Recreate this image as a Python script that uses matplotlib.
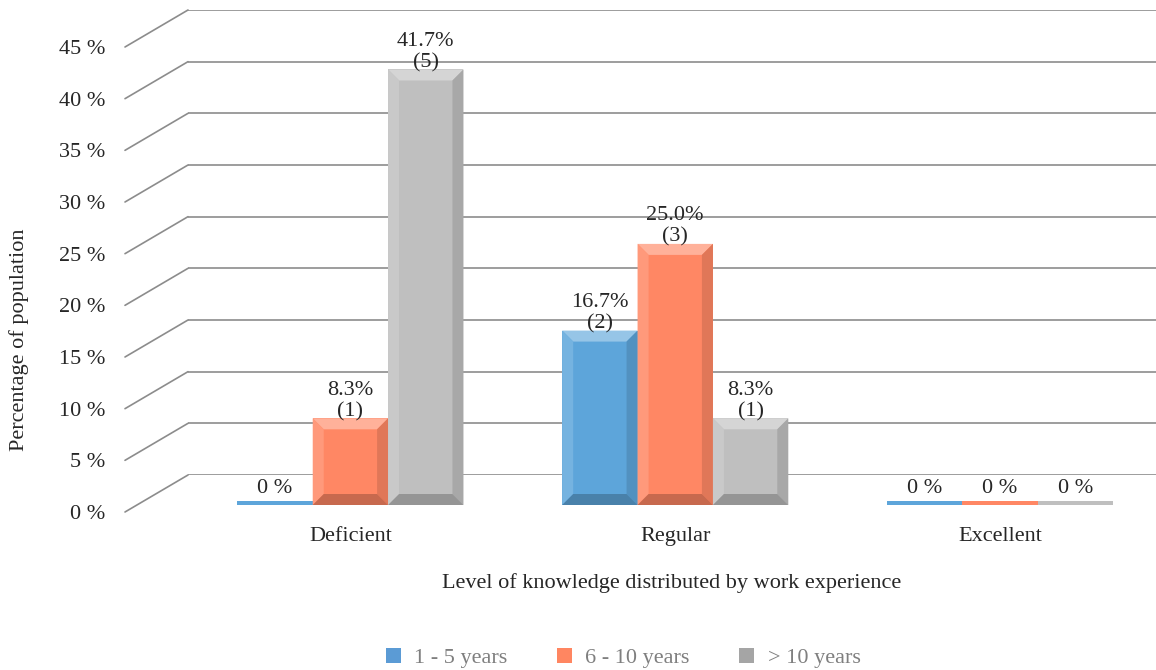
import numpy as np
import matplotlib.pyplot as plt
from matplotlib.patches import Polygon, Patch, ConnectionPatch
from matplotlib.colors import to_rgb

# data
categories = ['Deficient', 'Regular', 'Excellent']
series_names = ['1 - 5 years', '6 - 10 years', '> 10 years']
pct_1_5 = [0.0, 16.7, 0.0]
pct_6_10 = [8.3, 25.0, 0.0]
pct_gt10 = [41.7, 8.3, 0.0]
cnt_1_5 = [0, 2, 0]
cnt_6_10 = [1, 3, 0]
cnt_gt10 = [5, 1, 0]
yticks = [0, 5, 10, 15, 20, 25, 30, 35, 40, 45]

bar_colors = ['#5DA5DA', '#FF8764', '#BFBFBF']
legend_colors = ['#5B9BD5', '#FF8661', '#A5A5A5']
grid_color = '#8C8C8C'
txt_color = '#262626'
fs = 16

plt.rcParams['font.family'] = ['Liberation Serif', 'DejaVu Serif']

W, H = 1156, 670
fig = plt.figure(figsize=(W / 100, H / 100), dpi=100)


def px_axes(x0, x1, y_top, y_bot):
    return fig.add_axes([x0 / W, 1 - y_bot / H, (x1 - x0) / W, (y_bot - y_top) / H])


# back wall with gridlines
ax_back = px_axes(188, 1156, 10, 475)
ax_back.set_ylim(0, 45)
ax_back.set_xlim(0, 1)
ax_back.axis('off')
for v in yticks:
    ax_back.axhline(v, color=grid_color, lw=1.2, zorder=1)

# front (left) edge carrying the tick labels
ax_front = px_axes(125, 188, 47, 512)
ax_front.set_ylim(0, 45)
ax_front.set_xlim(0, 1)
for s in ax_front.spines.values():
    s.set_visible(False)
ax_front.set_xticks([])
ax_front.set_yticks(yticks)
ax_front.set_yticklabels([f'{v} %' for v in yticks], fontsize=fs, color=txt_color)
ax_front.tick_params(axis='y', length=0, pad=14)
ax_front.patch.set_alpha(0)

fig.text(19 / W, 1 - 340 / H, 'Percentage of population', rotation=90, ha='center',
         va='center', fontsize=fs, color=txt_color)

for v in yticks:
    con = ConnectionPatch(xyA=(0, v), coordsA=ax_front.get_yaxis_transform(),
                          xyB=(0, v), coordsB=ax_back.get_yaxis_transform(),
                          color=grid_color, lw=1.2)
    fig.add_artist(con)

# bars
ax = px_axes(188, 1156, 35, 505)
ax.set_ylim(0, 45)
ax.set_xlim(-0.5, 2.48)
ax.patch.set_alpha(0)
for s in ax.spines.values():
    s.set_visible(False)
ax.set_yticks([])
x = np.arange(len(categories))
ax.set_xticks(x)
ax.set_xticklabels(categories, fontsize=fs, color=txt_color)
ax.tick_params(axis='x', length=0, pad=16)
ax.set_xlabel('Level of knowledge distributed by work experience', fontsize=fs,
              color=txt_color, labelpad=19)

width = 0.232
px_x = 968 / 2.98
px_y = 470 / 45
bx = 11 / px_x
by = 11 / px_y
slab = 0.4

def mix(c, t, f):
    c = np.array(to_rgb(c))
    return tuple(c + (np.array(to_rgb(t)) - c) * f)

all_pct = [pct_1_5, pct_6_10, pct_gt10]
all_cnt = [cnt_1_5, cnt_6_10, cnt_gt10]
for i, (vals, cnts) in enumerate(zip(all_pct, all_cnt)):
    pos = x + (i - 1) * width
    col = bar_colors[i]
    shown = np.maximum(vals, slab)
    bars = ax.bar(pos, shown, width, color=col, zorder=3, linewidth=0)
    for b, v, c in zip(bars, vals, cnts):
        x0, w, h = b.get_x(), b.get_width(), b.get_height()
        if v > 0:
            polys = [
                ([(x0, h), (x0 + w, h), (x0 + w - bx, h - by), (x0 + bx, h - by)], mix(col, 'white', 0.35)),
                ([(x0, 0), (x0, h), (x0 + bx, h - by), (x0 + bx, by)], mix(col, 'white', 0.15)),
                ([(x0 + w, 0), (x0 + w, h), (x0 + w - bx, h - by), (x0 + w - bx, by)], mix(col, 'black', 0.12)),
                ([(x0, 0), (x0 + w, 0), (x0 + w - bx, by), (x0 + bx, by)], mix(col, 'black', 0.22)),
            ]
            for pts, fc in polys:
                ax.add_patch(Polygon(pts, closed=True, facecolor=fc, edgecolor='none', zorder=4))
            ax.annotate(f'{v:.1f}%\n({c})', xy=(x0 + w / 2, h), xytext=(0, -2),
                        textcoords='offset points', ha='center', va='bottom',
                        fontsize=fs, color=txt_color, linespacing=1.15, zorder=5)
        else:
            ax.annotate('0 %', xy=(x0 + w / 2, h), xytext=(0, 2),
                        textcoords='offset points', ha='center', va='bottom',
                        fontsize=fs, color=txt_color, zorder=5)

handles = [Patch(facecolor=c, edgecolor='none') for c in legend_colors]
leg = fig.legend(handles, series_names, loc='center', bbox_to_anchor=(623 / W, 1 - 658 / H),
                 ncol=3, frameon=False, fontsize=fs, handlelength=0.7, handleheight=0.7,
                 handletextpad=0.6, columnspacing=2.2)
for t in leg.get_texts():
    t.set_color('#7F7F7F')

fig.savefig('out.png', dpi=100)
